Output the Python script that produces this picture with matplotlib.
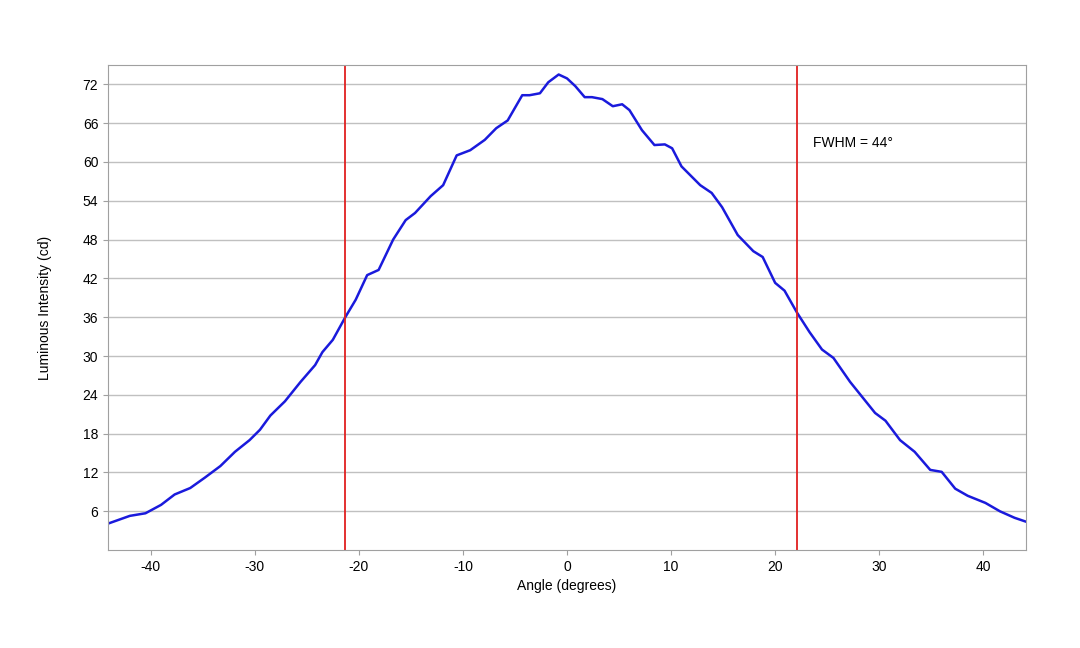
import matplotlib
matplotlib.use("Agg")
import matplotlib.pyplot as plt

plt.rcParams['font.family'] = ['Liberation Sans', 'DejaVu Sans']
plt.rcParams['axes.unicode_minus'] = False

angle = [-44.1,-42,-40.5,-39,-37.7,-36.2,-34.8,-33.3,-31.9,-30.5,-29.5,-28.5,-27.1,-25.6,-24.2,-23.5,-22.5,-21.3,-20.3,-19.2,-18.1,-16.7,-15.5,-14.6,-13.1,-11.9,-10.6,-9.3,-7.9,-6.8,-5.7,-4.3,-3.6,-2.6,-1.8,-0.8,0,0.8,1.7,2.4,3.4,4.4,5.3,6,7.2,8.4,9.4,10.1,11,12.8,13.9,14.9,16.4,17.9,18.8,20,20.9,22.1,23.3,24.5,25.6,27.2,28.6,29.6,30.6,32,33.4,34.9,36,37.3,38.5,40.2,41.6,43,44.1]
intensity = [4.1,5.3,5.7,7,8.6,9.6,11.2,13,15.2,17,18.6,20.8,23,26,28.6,30.6,32.5,36,38.7,42.5,43.3,48,51,52.1,54.7,56.4,61,61.8,63.4,65.2,66.4,70.3,70.3,70.6,72.3,73.5,72.9,71.7,70,70,69.7,68.6,68.9,68,64.9,62.6,62.7,62.1,59.3,56.4,55.2,53,48.7,46.2,45.3,41.3,40.1,36.7,33.7,31,29.7,26,23.2,21.2,20,17,15.2,12.4,12.1,9.5,8.4,7.3,6,5,4.4]
fwhm_lines = [-21.3, 22.1]
yticks = [6,12,18,24,30,36,42,48,54,60,66,72]
xticks = [-40,-30,-20,-10,0,10,20,30,40]

fig = plt.figure(figsize=(10.8,6.48), dpi=100)
ax = fig.add_axes([0.1, 0.151, 0.85, 0.749])
ax.set_xlim(-44.1, 44.1)
ax.set_ylim(0, 75)
ax.set_yticks(yticks)
ax.set_xticks(xticks)
ax.grid(axis='y', color='#c0c0c0', lw=1)
ax.set_axisbelow(True)
for s in ax.spines.values():
    s.set_color('#a0a0a0')
ax.tick_params(colors='#a0a0a0', labelcolor='black', labelsize=10)
ax.plot(angle, intensity, color='#1a1adc', lw=1.8, solid_joinstyle='round')
for v in fwhm_lines:
    ax.axvline(v, color='#e02020', lw=1.3)
ax.text(23.6, 62.9, 'FWHM = 44°', fontsize=10, va='center')
ax.set_xlabel('Angle (degrees)', fontsize=10)
ax.set_ylabel('Luminous Intensity (cd)', fontsize=10, labelpad=22)
fig.savefig('out.png', dpi=100)
